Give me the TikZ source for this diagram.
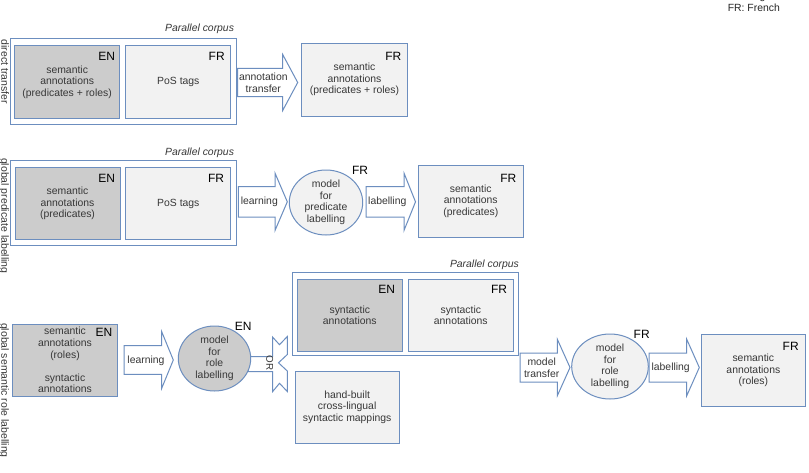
\documentclass[tikz,border=0pt]{standalone}
\usepackage{fontspec}
\setmainfont{Liberation Sans}
\usetikzlibrary{shapes.geometric,calc}
\definecolor{bord}{RGB}{108,142,191}
\definecolor{darkfill}{RGB}{204,204,204}
\definecolor{lightfill}{RGB}{242,242,242}
\definecolor{txt}{RGB}{55,55,55}
\newcommand{\blockarrow}[6]{%
  \draw[barrowstyle] ({#1},{#4-#5}) -- ({#2},{#4-#5}) -- ({#2},{#4-#6}) -- ({#3},{#4})
    -- ({#2},{#4+#6}) -- ({#2},{#4+#5}) -- ({#1},{#4+#5}) -- cycle;}
\begin{document}
\begin{tikzpicture}[x=1pt,y=-1pt,
  every node/.style={inner sep=0pt, outer sep=0pt},
  body/.style={font=\fontsize{10.4}{11.6}\selectfont, text=txt, align=center},
  box/.style={draw=bord, line width=1pt, minimum width=105pt, minimum height=72.5pt, body},
  enbox/.style={box, fill=darkfill},
  frbox/.style={box, fill=lightfill},
  corpus/.style={draw=bord, line width=1pt, fill=white},
  lang/.style={font=\fontsize{12}{12}\selectfont, text=black},
  corplabel/.style={font=\fontsize{10.4}{12}\selectfont\itshape, text=txt, anchor=base east},
  model/.style={ellipse, draw=bord, line width=1pt, body},
  barrowstyle/.style={draw=bord, line width=1pt, fill=white, line join=miter},
  rowlabel/.style={font=\fontsize{10.5}{12}\selectfont, text=txt, rotate=-90, anchor=base west}
]
\fill[white] (0,0) rectangle (809,472);
\useasboundingbox (0,0) rectangle (809,472);

% legend
\node[body, text=black!85, anchor=base] (legend) at (753.8,11) {EN: English\\FR: French};

% row labels
\node[rowlabel] (r1) at (1.5,39.5) {direct transfer};
\node[rowlabel] (r2) at (1.5,158) {global predicate labelling};
\node[rowlabel] (r3) at (1.5,323) {global semantic role labelling};

% ---------------- row 1 ----------------
\node[corpus, minimum width=226pt, minimum height=85.7pt] (pc1) at (123,81.15) {};
\node[corplabel] (pc1l) at ($(pc1.north east)+(-2,-6.5)$) {Parallel corpus};
\node[enbox] (en1) at (67.15,82.15) {semantic\\annotations\\(predicates + roles)};
\node[frbox] (fr1) at (178.35,82.15) {PoS tags};
\node[lang] (en1l) at (106.7,56.7) {EN};
\node[lang] (fr1l) at (216.7,56.7) {FR};
\blockarrow{237.7}{282.7}{297.7}{82.5}{14.2}{28}
\node[body] (a1) at (263.3,82.7) {annotation\\transfer};
\node[frbox, minimum width=105.6pt, minimum height=72.7pt] (out1) at (354.5,79.65) {semantic\\annotations\\(predicates + roles)};
\node[lang] (out1l) at (393.3,56.7) {FR};

% ---------------- row 2 ----------------
\node[corpus, minimum width=226pt, minimum height=84.3pt] (pc2) at (123,202.85) {};
\node[corplabel] (pc2l) at ($(pc2.north east)+(-2,-5.5)$) {Parallel corpus};
\node[enbox] (en2) at (67.5,203.65) {semantic\\annotations\\(predicates)};
\node[frbox] (fr2) at (178.35,203.65) {PoS tags};
\node[lang] (en2l) at (106.7,178.3) {EN};
\node[lang] (fr2l) at (216,178.3) {FR};
\blockarrow{238.3}{275}{287.3}{201.8}{15.3}{28.7}
\node[body] (a2) at (259.3,201.7) {learning};
\node[model, fill=lightfill, minimum width=73.4pt, minimum height=65pt] (m2) at (326,202.5) {model\\for\\predicate\\labelling};
\node[lang] (m2l) at (360,170.7) {FR};
\blockarrow{366}{404}{415.5}{201.8}{15.3}{28.7}
\node[body] (a3) at (387.3,201.7) {labelling};
\node[frbox, minimum height=72.3pt] (out2) at (470.8,201.15) {semantic\\annotations\\(predicates)};
\node[lang] (out2l) at (508.3,178.3) {FR};

% ---------------- row 3 ----------------
\node[enbox, minimum width=104.6pt, minimum height=71.7pt] (en3) at (65,360.15) {semantic\\annotations\\(roles)\\[11.6pt]syntactic\\annotations};
\node[lang] (en3l) at (104,332.3) {EN};
\blockarrow{124}{161.7}{173.3}{360}{14.3}{28.3}
\node[body] (a4) at (146,360.7) {learning};

% fork arrow (OR)
\draw[barrowstyle] (248,356.5) -- (272.7,356.5) -- (272.7,337.2) -- (279.5,344.7) -- (287.3,336.5)
  -- (287.3,354.5) -- (278.5,362.8) -- (287.3,371) -- (287.3,391.5) -- (279.5,383.3)
  -- (272.7,391.5) -- (272.7,371.5) -- (248,371.5) -- cycle;
\node[model, fill=darkfill, minimum width=72.4pt, minimum height=65pt] (m3) at (214.5,358.5) {model\\for\\role\\labelling};
\node[lang] (m3l) at (243.3,326.7) {EN};
\node[font=\fontsize{9.8}{10}\selectfont, text=txt, rotate=-90] (or) at (269.8,363) {OR};

\node[corpus, minimum width=225.6pt, minimum height=83.4pt] (pc3) at (405.5,314) {};
\node[corplabel] (pc3l) at ($(pc3.north east)+(0.5,-5)$) {Parallel corpus};
\node[enbox] (en3b) at (349.8,315.35) {syntactic\\annotations};
\node[frbox] (fr3) at (460.8,315.35) {syntactic\\annotations};
\node[lang] (en3bl) at (386.7,289.3) {EN};
\node[lang] (fr3l) at (499,289.3) {FR};
\node[frbox, minimum width=104.3pt, minimum height=72.3pt] (hand) at (347.15,407.15) {hand-built\\cross-lingual\\syntactic mappings};

\blockarrow{520}{557.3}{570}{367.5}{14.5}{28.3}
\node[body] (a5) at (541.7,367.8) {model\\transfer};
\node[model, fill=lightfill, minimum width=76.6pt, minimum height=65pt] (m4) at (610,366.5) {model\\for\\role\\labelling};
\node[lang] (m4l) at (641.7,334) {FR};
\blockarrow{649}{686.7}{699.3}{367.5}{14.5}{28.3}
\node[body] (a6) at (670.7,368.3) {labelling};
\node[frbox, minimum width=104.7pt, minimum height=72.7pt] (out3) at (753.35,370.35) {semantic\\annotations\\(roles)};
\node[lang] (out3l) at (790.7,346.7) {FR};
\end{tikzpicture}
\end{document}
